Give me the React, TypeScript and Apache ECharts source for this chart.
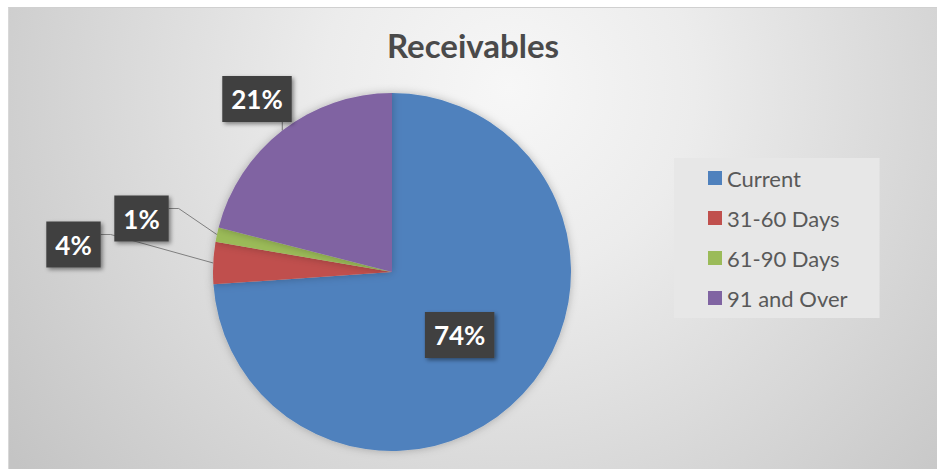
import React, { useEffect, useRef } from 'react';
import * as echarts from 'echarts';

const categories = ['Current', '31-60 Days', '61-90 Days', '91 and Over'];
const shares = [73.9, 3.8, 1.3, 21.0];
const sliceColors = ['#4f81bd', '#c0504d', '#9bbb59', '#8064a2'];
const titleText = 'Receivables';

// label box centres (chart px) for the outside labels, by data index
const labelSpots: Record<number, [number, number]> = {
  1: [64.5, 236.5],
  2: [132.5, 210.5],
  3: [248, 91],
};

export default function App() {
  const ref = useRef<HTMLDivElement>(null);
  useEffect(() => {
    const chart = echarts.init(ref.current!, null, { renderer: 'svg' });
    const labelBase = {
      fontFamily: 'Lato',
      fontWeight: 'bold',
      fontSize: 26,
      lineHeight: 26,
      color: '#ffffff',
      backgroundColor: '#404040',
      padding: [10, 9, 10, 9],
      shadowColor: 'rgba(0,0,0,0.45)',
      shadowBlur: 4,
      shadowOffsetX: 2,
      shadowOffsetY: 2,
      formatter: '{d}%',
    };
    chart.setOption({
      animation: false,
      backgroundColor: {
        type: 'radial',
        x: 500,
        y: 80,
        r: 620,
        global: true,
        colorStops: [
          { offset: 0, color: '#f7f7f7' },
          { offset: 0.3, color: '#ececec' },
          { offset: 1, color: '#c4c4c4' },
        ],
      },
      title: {
        text: titleText,
        left: 'center',
        top: 15,
        padding: [5, 5, 5, 17],
        textStyle: { fontFamily: 'Lato', fontWeight: 'bold', fontSize: 33, color: '#4a4a4a' },
      },
      legend: {
        orient: 'vertical',
        left: 665,
        top: 150,
        padding: [9, 32, 9, 34],
        backgroundColor: '#e7e7e7',
        itemWidth: 14,
        itemHeight: 14,
        itemGap: 18,
        icon: 'rect',
        data: categories,
        textStyle: { fontFamily: 'Lato', fontSize: 22, lineHeight: 22, color: '#595959' },
      },
      series: [
        {
          type: 'pie',
          center: [383, 264],
          radius: 179,
          startAngle: 90,
          clockwise: true,
          avoidLabelOverlap: false,
          percentPrecision: 0,
          emphasis: { disabled: true },
          itemStyle: { shadowBlur: 8, shadowColor: 'rgba(0,0,0,0.25)' },
          labelLine: {
            show: true,
            length: 10,
            length2: 10,
            lineStyle: { color: '#7f7f7f', width: 1 },
          },
          labelLayout: (p: any) => {
            const spot = labelSpots[p.dataIndex];
            if (!spot) return {};
            const w = p.labelRect.width;
            const h = p.labelRect.height;
            const [x, y] = spot;
            const start = p.labelLinePoints ? p.labelLinePoints[0] : [x, y];
            let pts;
            if (p.dataIndex === 3) {
              pts = [start, [start[0], y + h / 2 + 3], [start[0], y + h / 2]];
            } else {
              const ay = y - 10;
              pts = [start, [x + w / 2 + 10, ay], [x + w / 2, ay]];
            }
            return { x, y, align: 'center', verticalAlign: 'middle', labelLinePoints: pts };
          },
          data: categories.map((name, i) => ({
            name,
            value: shares[i],
            itemStyle: { color: sliceColors[i] },
            label: { ...labelBase, position: i === 0 ? 'inside' : 'outside' },
            labelLine: { show: i !== 0 },
          })),
        },
      ],
    });
    return () => chart.dispose();
  }, []);
  return (
    <div
      style={{
        position: 'absolute',
        left: 8,
        top: 7,
        width: 929,
        height: 462,
        borderTop: '1px solid #d0d0d0',
        borderLeft: '1px solid #d8d8d8',
        boxSizing: 'border-box',
      }}
    >
      <div ref={ref} style={{ width: '100%', height: '100%' }} />
    </div>
  );
}
